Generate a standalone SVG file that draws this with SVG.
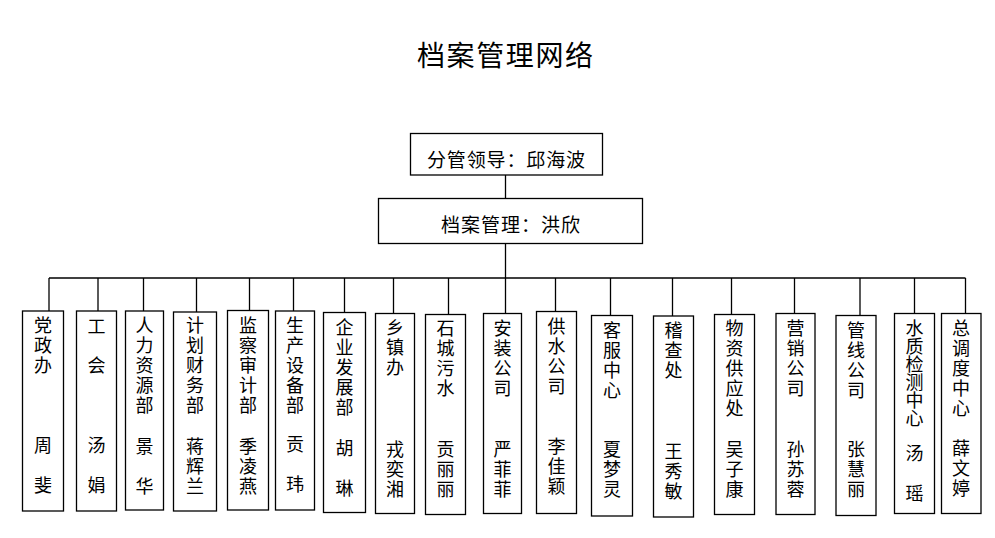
<svg xmlns="http://www.w3.org/2000/svg" width="995" height="538" viewBox="0 0 995 538">
<style>
.bx{fill:#fff;stroke:#000;stroke-width:1.3}
.ln{stroke:#000;stroke-width:1.3;fill:none}
.v{font-family:"Noto Sans CJK SC","Noto Sans",sans-serif;font-size:18px;fill:#000;writing-mode:vertical-rl;letter-spacing:2px}
.w{letter-spacing:22px}
.c{letter-spacing:0px}
.h{font-family:"Noto Sans CJK SC","Noto Sans",sans-serif;font-size:19px;fill:#000}
.title{font-family:"Noto Sans CJK SC","Noto Sans",sans-serif;font-size:28px;fill:#000}
</style>
<rect width="995" height="538" fill="#fff"/>
<text class="title" x="417" y="66" textLength="176" lengthAdjust="spacing">档案管理网络</text>
<g id="connectors">
<line class="ln" x1="505.5" y1="175" x2="505.5" y2="198"/>
<line class="ln" x1="505.5" y1="243" x2="505.5" y2="278"/>
<line class="ln" x1="49" y1="278" x2="965.5" y2="278"/>
<line class="ln" x1="49" y1="278" x2="49" y2="311"/>
<line class="ln" x1="98" y1="278" x2="98" y2="311"/>
<line class="ln" x1="143.5" y1="278" x2="143.5" y2="311"/>
<line class="ln" x1="196.5" y1="278" x2="196.5" y2="312"/>
<line class="ln" x1="249.5" y1="278" x2="249.5" y2="310.5"/>
<line class="ln" x1="293.5" y1="278" x2="293.5" y2="311"/>
<line class="ln" x1="344.5" y1="278" x2="344.5" y2="312.5"/>
<line class="ln" x1="393.5" y1="278" x2="393.5" y2="313.5"/>
<line class="ln" x1="448.5" y1="278" x2="448.5" y2="314.5"/>
<line class="ln" x1="505.5" y1="278" x2="505.5" y2="313.5"/>
<line class="ln" x1="555.5" y1="278" x2="555.5" y2="311.5"/>
<line class="ln" x1="610.5" y1="278" x2="610.5" y2="315.5"/>
<line class="ln" x1="672.5" y1="278" x2="672.5" y2="316"/>
<line class="ln" x1="731.5" y1="278" x2="731.5" y2="314.5"/>
<line class="ln" x1="794.5" y1="278" x2="794.5" y2="313.5"/>
<line class="ln" x1="860" y1="278" x2="860" y2="315.5"/>
<line class="ln" x1="914.5" y1="278" x2="914.5" y2="313.5"/>
<line class="ln" x1="965.5" y1="278" x2="965.5" y2="313.5"/>
</g>
<g id="leader">
<rect class="bx" x="410.5" y="133.5" width="192" height="41.5"/>
<text class="h" x="427" y="167" textLength="158" lengthAdjust="spacing">分管领导：邱海波</text>
</g>
<g id="archive">
<rect class="bx" x="378.5" y="198.5" width="264" height="45"/>
<text class="h" x="441" y="232" textLength="139" lengthAdjust="spacing">档案管理：洪欣</text>
</g>
<g id="n1">
<rect class="bx" x="22.5" y="311" width="41" height="200"/>
<text class="v" x="43" y="316">党政办</text>
<text class="v w" x="43" y="436">周斐</text>
</g>
<g id="n2">
<rect class="bx" x="76.5" y="311" width="40" height="200"/>
<text class="v" x="96.5" y="317" style="letter-spacing:21px">工会</text>
<text class="v w" x="96.5" y="436">汤娟</text>
</g>
<g id="n3">
<rect class="bx" x="125.5" y="311" width="38" height="199"/>
<text class="v" x="144.5" y="316">人力资源部</text>
<text class="v w" x="144.5" y="437">景华</text>
</g>
<g id="n4">
<rect class="bx" x="173.5" y="312" width="43" height="199"/>
<text class="v" x="195" y="316">计划财务部</text>
<text class="v" x="195" y="437">蒋辉兰</text>
</g>
<g id="n5">
<rect class="bx" x="227.5" y="310.5" width="41" height="199.5"/>
<text class="v" x="248" y="316">监察审计部</text>
<text class="v" x="248" y="437">季凌燕</text>
</g>
<g id="n6">
<rect class="bx" x="275.5" y="311" width="39" height="199"/>
<text class="v" x="295" y="316">生产设备部</text>
<text class="v w" x="295" y="435">贡玮</text>
</g>
<g id="n7">
<rect class="bx" x="323.5" y="312.5" width="42" height="200"/>
<text class="v" x="344.5" y="318">企业发展部</text>
<text class="v w" x="344.5" y="439">胡琳</text>
</g>
<g id="n8">
<rect class="bx" x="375.5" y="313.5" width="39" height="200"/>
<text class="v" x="395" y="318">乡镇办</text>
<text class="v" x="395" y="440">戎奕湘</text>
</g>
<g id="n9">
<rect class="bx" x="425.5" y="314.5" width="40" height="200"/>
<text class="v" x="445.5" y="319">石城污水</text>
<text class="v" x="445.5" y="440">贡丽丽</text>
</g>
<g id="n10">
<rect class="bx" x="483.5" y="313.5" width="38" height="200"/>
<text class="v" x="502.5" y="319">安装公司</text>
<text class="v" x="502.5" y="440">严菲菲</text>
</g>
<g id="n11">
<rect class="bx" x="536.5" y="311.5" width="40" height="202"/>
<text class="v" x="556.5" y="317">供水公司</text>
<text class="v" x="556.5" y="437">李佳颖</text>
</g>
<g id="n12">
<rect class="bx" x="591.5" y="315.5" width="41" height="200.5"/>
<text class="v" x="612" y="321">客服中心</text>
<text class="v" x="612" y="440">夏梦灵</text>
</g>
<g id="n13">
<rect class="bx" x="653.5" y="316" width="40" height="201"/>
<text class="v" x="673.5" y="321">稽查处</text>
<text class="v" x="673.5" y="442">王秀敏</text>
</g>
<g id="n14">
<rect class="bx" x="714.5" y="314.5" width="40" height="200"/>
<text class="v" x="734.5" y="319">物资供应处</text>
<text class="v" x="734.5" y="440">吴子康</text>
</g>
<g id="n15">
<rect class="bx" x="776" y="313.5" width="39" height="201"/>
<text class="v" x="795.5" y="319">营销公司</text>
<text class="v" x="795.5" y="440">孙苏蓉</text>
</g>
<g id="n16">
<rect class="bx" x="836" y="315.5" width="40" height="200"/>
<text class="v" x="856" y="321">管线公司</text>
<text class="v" x="856" y="440">张慧丽</text>
</g>
<g id="n17">
<rect class="bx" x="894.5" y="313.5" width="40" height="200"/>
<text class="v c" x="914.5" y="319">水质检测中心</text>
<text class="v w" x="914.5" y="444">汤瑶</text>
</g>
<g id="n18">
<rect class="bx" x="941.5" y="313.5" width="39.5" height="200"/>
<text class="v" x="961" y="319">总调度中心</text>
<text class="v" x="961" y="439">薛文婷</text>
</g>
</svg>
